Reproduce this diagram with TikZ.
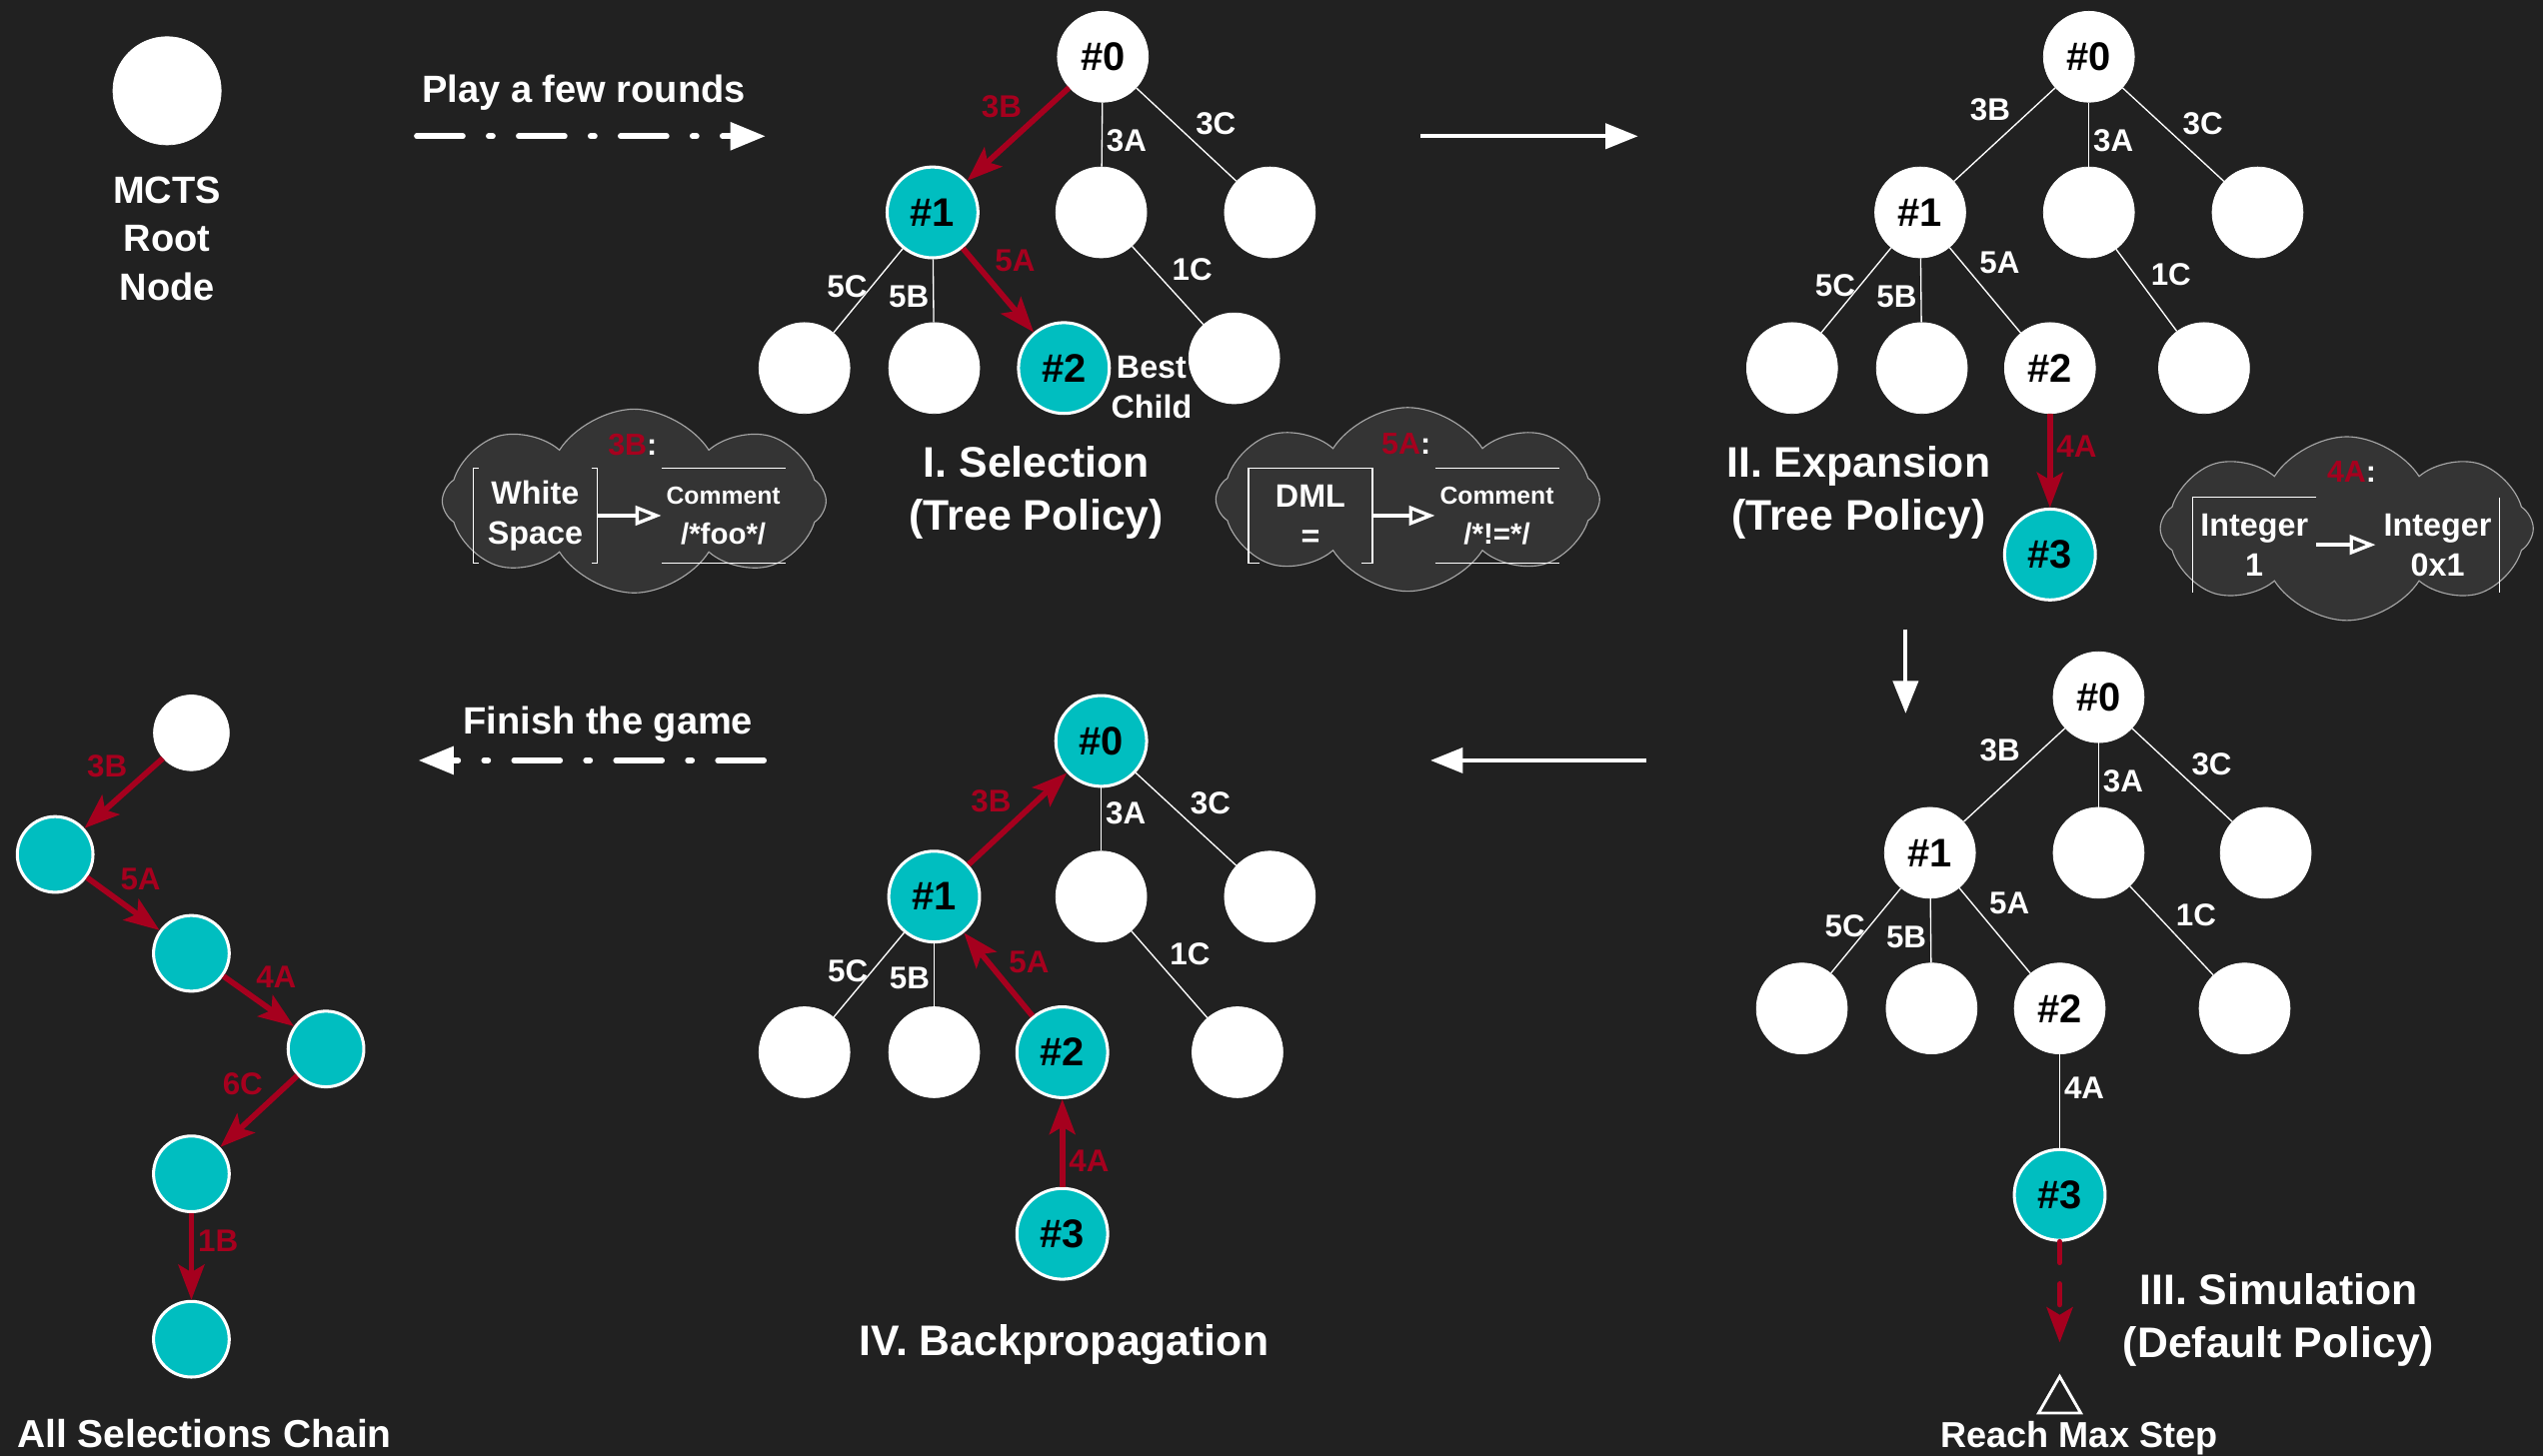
\documentclass[tikz,border=0pt]{standalone}
\usepackage{fontspec}
\setmainfont{Liberation Sans}
\usetikzlibrary{arrows.meta,shapes.symbols,shapes.geometric}

\definecolor{board}{RGB}{33,33,33}
\definecolor{picked}{RGB}{0,190,192}
\definecolor{hot}{RGB}{166,0,30}
\definecolor{puff}{RGB}{52,52,52}
\newcommand{\fsz}[2]{\fontsize{#1}{#2}\selectfont\bfseries}

\tikzstyle{state}=[draw=white, circle, fill=white, minimum size=1.68cm, inner sep=0pt, font=\fsz{21}{24}, text=black]
\tikzstyle{chosen}=[state, fill=picked, line width=1.6pt]
\tikzstyle{dot}=[state, minimum size=1.4cm]
\tikzstyle{dotchosen}=[chosen, minimum size=1.4cm]
\tikzstyle{link} = [draw=white, line width=0.7pt, -]
\tikzstyle{trail} = [draw=hot, line width=3pt, -{Stealth[length=6.5mm, width=4.8mm, inset=1.4mm]}]
\tikzstyle{weight} = [font=\fsz{16.5}{18}, text=white, inner sep=2pt]
\tikzstyle{hotweight} = [weight, text=hot]
\tikzstyle{caption} = [font=\fsz{22.5}{28}, text=white, align=center]
\tikzstyle{note} = [font=\fsz{20}{24}, text=white, align=center]
\tikzstyle{flow} = [draw=white, line width=2.2pt, -{Triangle[length=6mm, width=4.6mm]}]
\tikzstyle{dashflow} = [draw=white, line width=3pt, line cap=round, dash pattern=on 0.85cm off 0.48cm on 0.075cm off 0.48cm, -{Triangle[length=6.5mm, width=5mm]}]
\tikzstyle{bubble} = [cloud, cloud puffs=8, cloud puff arc=115, aspect=2.1, draw=gray!70, fill=puff, line width=0.6pt, minimum width=7.1cm, minimum height=3.4cm]
\tikzstyle{slot} = [minimum width=2.28cm, minimum height=1.74cm, inner sep=0pt, align=center, text=white, font=\fsz{17}{21}]
\tikzstyle{rim} = [draw=white, line width=0.7pt]
\tikzstyle{into} = [draw=white, line width=1.8pt, -{Triangle[open, length=4.8mm, width=3.6mm]}]

\begin{document}
\begin{tikzpicture}[x=0.03cm, y=-0.03cm, auto, swap]
    \fill[board] (0,0) rectangle (1568,898);
    \useasboundingbox (0,0) rectangle (1568,898);

    % lone root
    \node[state, minimum size=2cm] (R) at (103,56) {};
    \node[note, font=\fsz{20}{25.5}] (Rtext) at (103,147) {MCTS\\Root\\Node};

    \node[note, anchor=base] (play) at (360,63) {Play a few rounds};
    \coordinate (p1) at (257,84);
    \coordinate (p2) at (472,84);
    \draw[dashflow] (p1) -- (p2);

    % I. Selection
    \foreach \pos/\name/\txt/\sty in {
                            {(680,35)/S0/\#0/state},
                            {(575,131)/S1/\#1/chosen},
                            {(679,131)/SA//state},
                            {(783,131)/SC//state},
                            {(496,227)/S5C//state},
                            {(576,227)/S5B//state},
                            {(656,227)/S2/\#2/chosen},
                            {(761,221)/S1C//state}}
        \node[\sty] (\name) at \pos {\txt};

    \foreach \source/\dest/\weight/\p/\where in {S0/SA/3A/.6/right, S0/SC/3C/.55/above right,
                            S1/S5C/5C/.45/left, S1/S5B/5B/.6/left, SA/S1C/1C/.5/above right}
        \path[link] (\source) -- node[weight, pos=\p, \where] {\weight} (\dest);
    \foreach \source/\dest/\weight/\p/\where in {S0/S1/3B/.4/above left, S1/S2/5A/.36/above right}
        \path[trail] (\source) -- node[hotweight, pos=\p, \where] {\weight} (\dest);

    \node[note, font=\fsz{17}{21.3}] (best) at (710,239) {Best\\Child};
    \node[caption] (t1) at (639,304) {I. Selection\\(Tree Policy)};

    % cloud for 3B
    \node[bubble] (K1) at (391,309) {};
    \node[note, font=\fsz{16}{20}] (k1) at (390,274) {\textcolor{hot}{3B}:};
    \node[slot] (ws) at (330,318) {White\\Space};
    \node[slot] (cm1) at (446,318) {\fsz{13}{18}Comment\\\fsz{15.5}{19}/*foo*/};
    \draw[rim] ([xshift=3pt]ws.north west) -- (ws.north west) -- (ws.south west) -- ++(3pt,0);
    \draw[rim] ([xshift=-3pt]ws.north east) -- (ws.north east) -- (ws.south east) -- ++(-3pt,0);
    \draw[rim] (cm1.north west) -- (cm1.north east);
    \draw[rim] (cm1.south west) -- (cm1.south east);
    \draw[into] (ws) -- (cm1);

    % cloud for 5A
    \node[bubble] (K2) at (868,308) {};
    \node[note, font=\fsz{16}{20}] (k2) at (867,274) {\textcolor{hot}{5A}:};
    \node[slot] (dml) at (808,318) {DML\\=};
    \node[slot] (cm2) at (923,318) {\fsz{13}{18}Comment\\\fsz{15.5}{19}/*!=*/};
    \draw[rim] ([xshift=6pt]dml.south west) -- (dml.south west) |- (dml.north east) -- (dml.south east) -- ++(-6pt,0);
    \draw[rim] (cm2.north west) -- (cm2.north east);
    \draw[rim] (cm2.south west) -- (cm2.south east);
    \draw[into] (dml) -- (cm2);

    \coordinate (f1) at (876,84);
    \coordinate (f2) at (1010,84);
    \draw[flow] (f1) -- (f2);

    % II. Expansion
    \foreach \pos/\name/\txt/\sty in {
                            {(1288,35)/E0/\#0/state},
                            {(1184,131)/E1/\#1/state},
                            {(1288,131)/EA//state},
                            {(1392,131)/EC//state},
                            {(1105,227)/E5C//state},
                            {(1185,227)/E5B//state},
                            {(1264,227)/E2/\#2/state},
                            {(1359,227)/E1C//state},
                            {(1264,342)/E3/\#3/chosen}}
        \node[\sty] (\name) at \pos {\txt};

    \foreach \source/\dest/\weight/\p/\where in {E0/E1/3B/.4/above left, E0/EA/3A/.6/right,
                            E0/EC/3C/.55/above right, E1/E5C/5C/.45/left, E1/E5B/5B/.6/left,
                            E1/E2/5A/.36/above right, EA/E1C/1C/.5/above right}
        \path[link] (\source) -- node[weight, pos=\p, \where] {\weight} (\dest);
    \path[trail] (E2) -- node[hotweight, pos=.35, right] {4A} (E3);

    \node[caption] (t2) at (1146,304) {II. Expansion\\(Tree Policy)};

    % cloud for 4A
    \node[bubble, minimum width=6.9cm] (K3) at (1447,326) {};
    \node[note, font=\fsz{16}{20}] (k3) at (1450,291) {\textcolor{hot}{4A}:};
    \node[slot] (int1) at (1390,336) {Integer\\1};
    \node[slot] (int2) at (1503,336) {Integer\\0x1};
    \draw[rim] (int1.north east) -- (int1.north west) -- (int1.south west);
    \draw[rim] (int2.north east) -- (int2.south east);
    \draw[into] (int1) -- (int2);

    \coordinate (f3) at (1175,388);
    \coordinate (f4) at (1175,440);
    \draw[flow] (f3) -- (f4);

    % III. Simulation
    \foreach \pos/\name/\txt/\sty in {
                            {(1294,430)/M0/\#0/state},
                            {(1190,526)/M1/\#1/state},
                            {(1294,526)/MA//state},
                            {(1397,526)/MC//state},
                            {(1111,622)/M5C//state},
                            {(1191,622)/M5B//state},
                            {(1270,622)/M2/\#2/state},
                            {(1384,622)/M1C//state},
                            {(1270,737)/M3/\#3/chosen}}
        \node[\sty] (\name) at \pos {\txt};

    \foreach \source/\dest/\weight/\p/\where in {M0/M1/3B/.4/above left, M0/MA/3A/.6/right,
                            M0/MC/3C/.55/above right, M1/M5C/5C/.45/left, M1/M5B/5B/.6/left,
                            M1/M2/5A/.36/above right, MA/M1C/1C/.5/above right, M2/M3/4A/.36/right}
        \path[link] (\source) -- node[weight, pos=\p, \where] {\weight} (\dest);

    \coordinate (Mend) at (1270,828);
    \draw[trail, line cap=round, dash pattern=on 0.38cm off 0.4cm] (M3) -- (Mend);
    \node[draw=white, line width=1.5pt, regular polygon, regular polygon sides=3, minimum size=0.9cm, inner sep=0pt] (maxstep) at (1270,864) {};
    \node[note, font=\fsz{19}{22}, anchor=base] (reach) at (1282,893) {Reach Max Step};
    \node[caption] (t3) at (1405,814) {III. Simulation\\(Default Policy)};

    \coordinate (f5) at (1015,469);
    \coordinate (f6) at (882,469);
    \draw[flow] (f5) -- (f6);

    % IV. Backpropagation
    \foreach \pos/\name/\txt/\sty in {
                            {(679,457)/B0/\#0/chosen},
                            {(576,553)/B1/\#1/chosen},
                            {(679,553)/BA//state},
                            {(783,553)/BC//state},
                            {(496,649)/B5C//state},
                            {(576,649)/B5B//state},
                            {(655,649)/B2/\#2/chosen},
                            {(763,649)/B1C//state},
                            {(655,761)/B3/\#3/chosen}}
        \node[\sty] (\name) at \pos {\txt};

    \foreach \source/\dest/\weight/\p/\where in {B0/BA/3A/.4/right, B0/BC/3C/.5/above right,
                            B1/B5C/5C/.45/left, B1/B5B/5B/.55/left, BA/B1C/1C/.45/above right}
        \path[link] (\source) -- node[weight, pos=\p, \where] {\weight} (\dest);
    \foreach \source/\dest/\weight/\p/\where in {B1/B0/3B/.5/above left, B2/B1/5A/.44/above right,
                            B3/B2/4A/.3/right}
        \path[trail] (\source) -- node[hotweight, pos=\p, \where] {\weight} (\dest);

    \node[caption, anchor=base] (t4) at (656,836) {IV. Backpropagation};

    \node[note, anchor=base] (finish) at (375,453) {Finish the game};
    \coordinate (g1) at (471,469);
    \coordinate (g2) at (258,469);
    \draw[dashflow] (g1) -- (g2);

    % all selections chain
    \foreach \pos/\name/\sty in {
                            {(118,452)/C0/dot},
                            {(34,527)/C1/dotchosen},
                            {(118,588)/C2/dotchosen},
                            {(201,647)/C3/dotchosen},
                            {(118,724)/C4/dotchosen},
                            {(118,826)/C5/dotchosen}}
        \node[\sty] (\name) at \pos {};

    \foreach \source/\dest/\weight/\p/\where in {C0/C1/3B/.37/above left, C1/C2/5A/.37/above right,
                            C2/C3/4A/.37/above right, C3/C4/6C/.36/above left, C4/C5/1B/.32/right}
        \path[trail] (\source) -- node[hotweight, pos=\p, \where] {\weight} (\dest);

    \node[note, font=\fsz{20.5}{24}, anchor=base] (chain) at (126,893) {All Selections Chain};

\end{tikzpicture}
\end{document}
